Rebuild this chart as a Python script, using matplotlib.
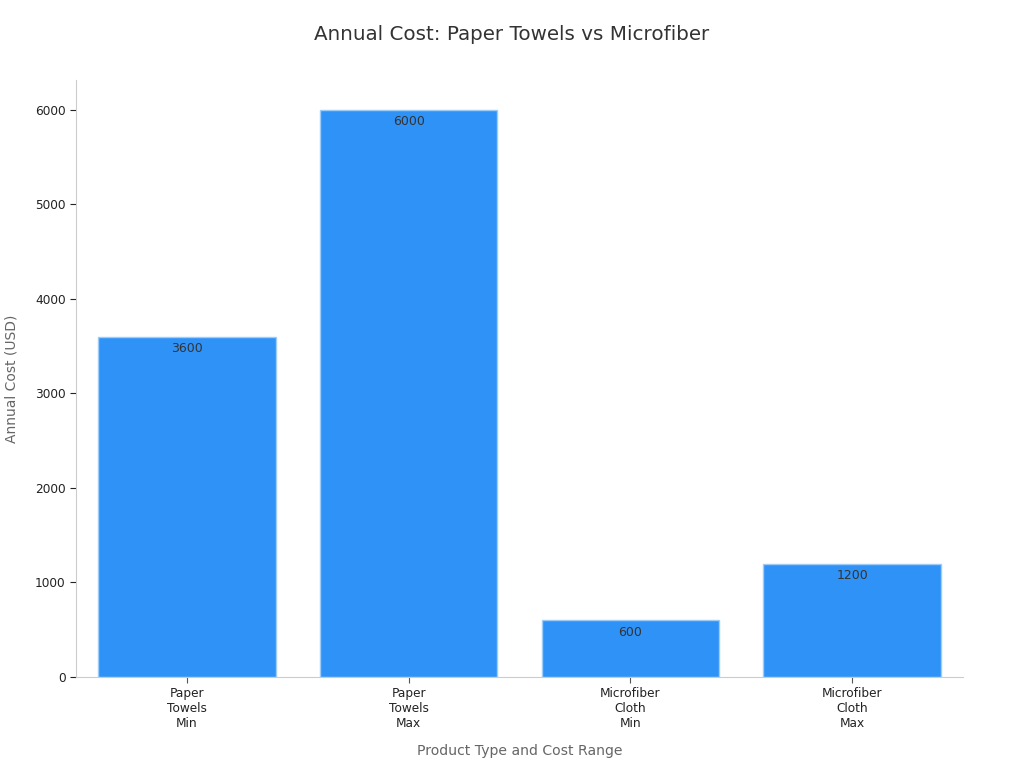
import matplotlib
matplotlib.use("Agg")
import matplotlib.pyplot as plt

categories = ["Paper\nTowels\nMin", "Paper\nTowels\nMax", "Microfiber\nCloth\nMin", "Microfiber\nCloth\nMax"]
costs = [3600, 6000, 600, 1200]

plt.rcParams["font.family"] = ["DejaVu Sans"]

fig = plt.figure(figsize=(10.24, 7.68), dpi=100)
ax = fig.add_axes([0.0742, 0.1185, 0.8662, 0.7773])

x = range(len(categories))
bars = ax.bar(x, costs, width=0.8, color="#2f92f7", edgecolor="#9cccf7", linewidth=1)

for b, v in zip(bars, costs):
    ax.annotate(str(v), (b.get_x() + b.get_width() / 2, v), xytext=(0, -4),
                textcoords="offset points", ha="center", va="top",
                fontsize=9, color="#333333")

ax.set_xlim(-0.5, 3.5)
ax.set_ylim(0, 6315)
ax.set_xticks(list(x))
ax.set_xticklabels(categories, fontsize=8.7, color="#222222")
ax.set_yticks([0, 1000, 2000, 3000, 4000, 5000, 6000])
ax.tick_params(axis="y", labelsize=8.7, colors="#222222", length=4, width=0.8)
ax.tick_params(axis="x", length=4, width=0.8, colors="#555555", labelcolor="#222222")

for s in ["top", "right"]:
    ax.spines[s].set_visible(False)
for s in ["left", "bottom"]:
    ax.spines[s].set_color("#cccccc")

ax.set_xlabel("Product Type and Cost Range", fontsize=10.1, color="#666666", labelpad=10)
ax.set_ylabel("Annual Cost (USD)", fontsize=10, color="#666666", labelpad=12)
fig.suptitle("Annual Cost: Paper Towels vs Microfiber", fontsize=14.3, color="#333333", y=0.968)

fig.savefig("out.png", dpi=100)
